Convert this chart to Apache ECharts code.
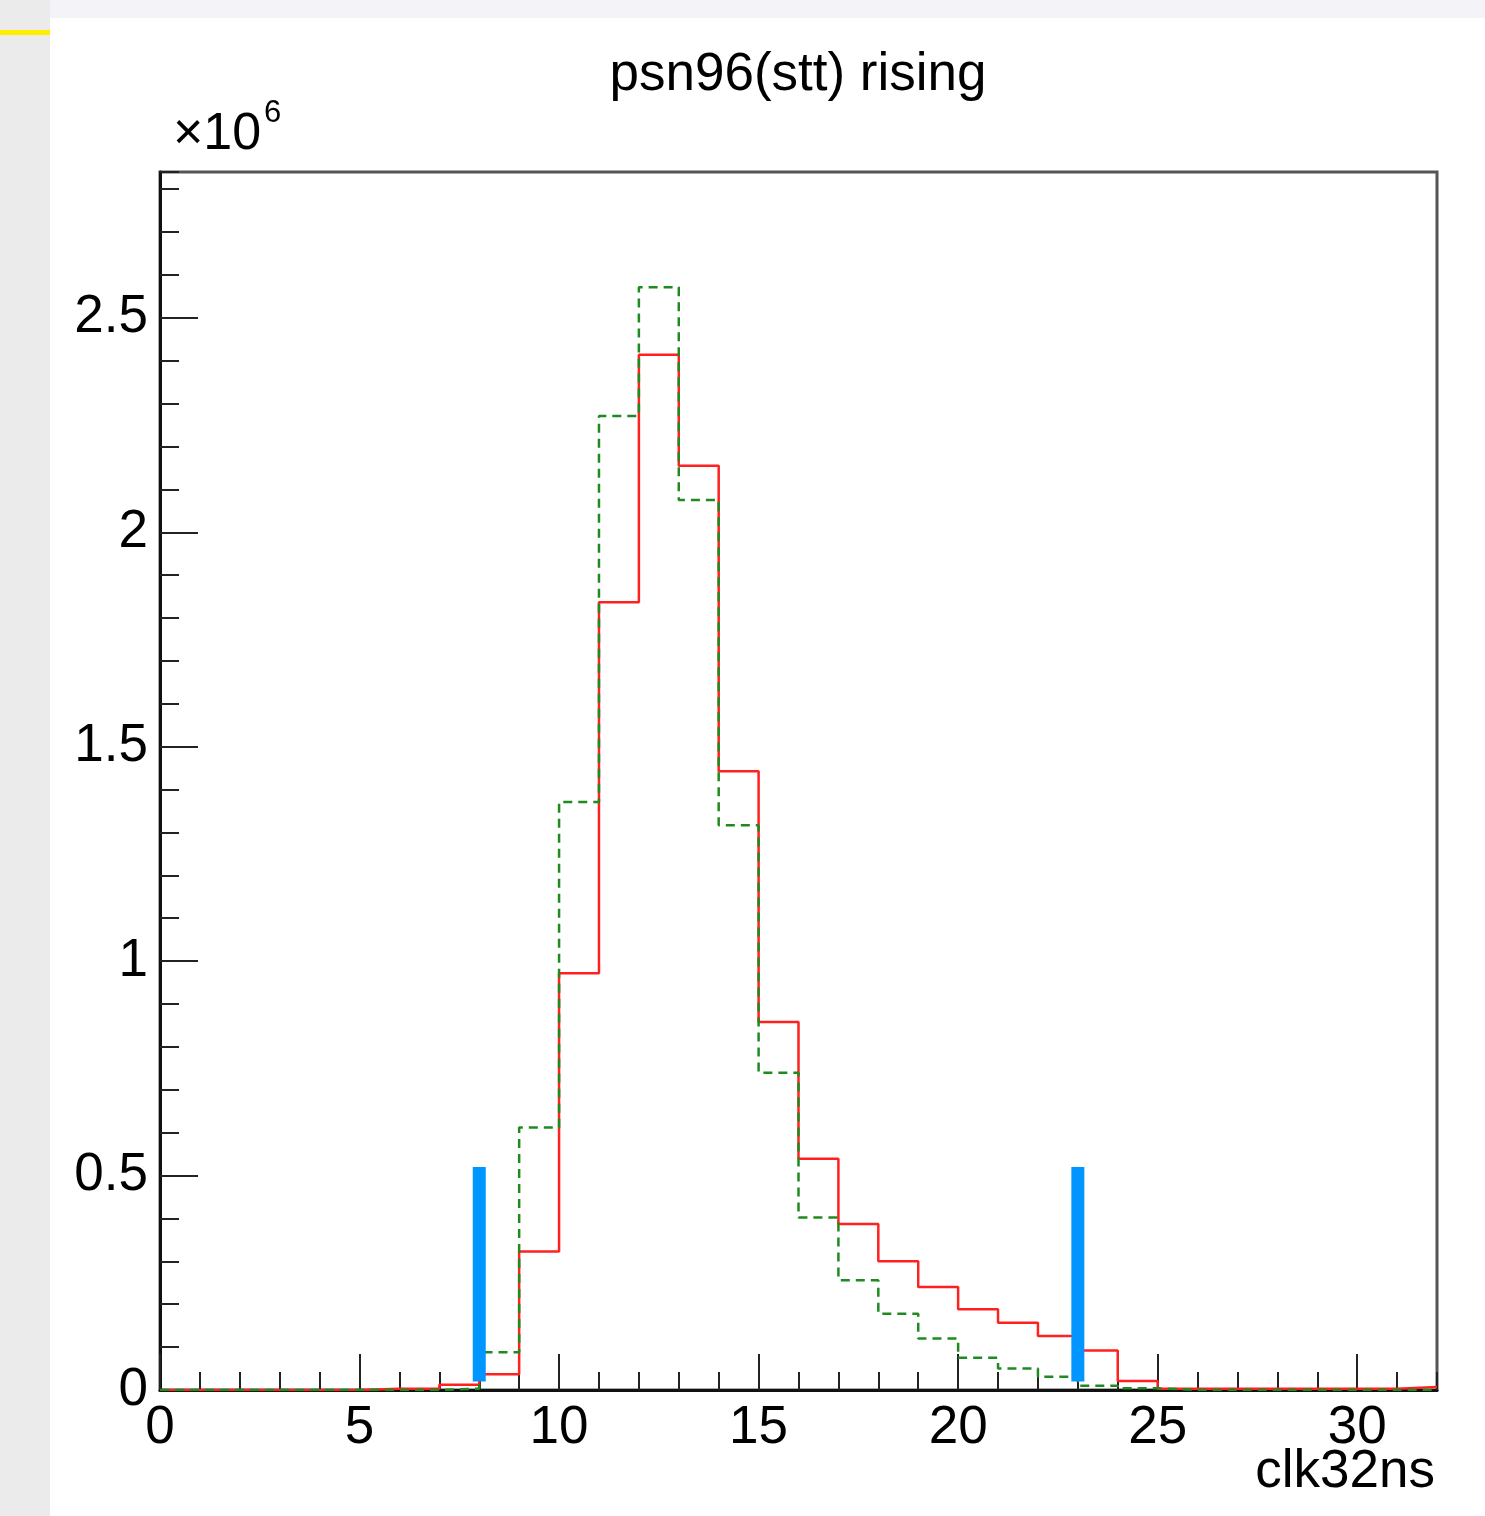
<!DOCTYPE html>
<html>
<head>
<meta charset="utf-8">
<script src="https://cdn.jsdelivr.net/npm/echarts@6/dist/echarts.min.js"></script>
<style>
html,body{margin:0;padding:0;background:#fff;}
#chart{width:1485px;height:1516px;}
</style>
</head>
<body>
<div id="chart"></div>
<script>
// ---- data (values in units of 10^6 entries) ----
const binEdgesStart = 0;          // first bin low edge (clk32ns)
const binWidth = 1;
const redCounts = [0,0,0,0,0,0.003,0.003,0.012,0.037,0.323,0.972,1.837,2.414,2.155,1.443,0.858,
                   0.539,0.387,0.300,0.240,0.188,0.157,0.126,0.092,0.021,0.003,0.003,0.003,0.003,0.003,0.003,0.007];
const greenCounts = [0,0,0,0,0,0,0,0.003,0.088,0.612,1.371,2.271,2.571,2.075,1.317,0.740,
                     0.402,0.256,0.178,0.120,0.075,0.050,0.031,0.010,0.004,0,0,0,0,0,0,0];
const cutPositions = [8, 23];
const cutRange = [0.02, 0.52];
const xMin = 0, xMax = 32, yMin = 0, yMax = 2.84;
const titleText = 'psn96(stt) rising';
const xTitle = 'clk32ns';

function stepPoints(counts){
  const pts = counts.map((v,i)=>[binEdgesStart + i*binWidth, v]);
  pts.push([binEdgesStart + counts.length*binWidth, counts[counts.length-1]]);
  return pts;
}

const FONT = 'Liberation Sans, Arial, Helvetica, sans-serif';
const chart = echarts.init(document.getElementById('chart'), null, {renderer:'canvas'});

const cutSeries = cutPositions.map(x => ({
  type:'line', xAxisIndex:0, yAxisIndex:0, symbol:'none', silent:true, z:5,
  data:[[x, cutRange[0]],[x, cutRange[1]]],
  lineStyle:{color:'#0095ff', width:13, cap:'butt'}
}));

chart.setOption({
  animation:false,
  backgroundColor:'#ffffff',
  grid:{left:160, right:48, top:172, bottom:126, show:true, borderColor:'#555555', borderWidth:3, backgroundColor:'transparent'},
  xAxis:[
    {type:'value', min:xMin, max:xMax, interval:1, position:'bottom',
     axisLine:{show:true, onZero:false, lineStyle:{color:'#111', width:3}},
     axisTick:{show:true, inside:true, length:18, lineStyle:{color:'#222', width:2}},
     axisLabel:{show:false}, splitLine:{show:false}},
    {type:'value', min:xMin, max:xMax, interval:5, position:'bottom',
     axisLine:{show:false, onZero:false},
     axisTick:{show:true, inside:true, length:36, lineStyle:{color:'#222', width:2}},
     axisLabel:{show:true, margin:12, fontSize:53, fontFamily:FONT, color:'#000', showMaxLabel:false},
     splitLine:{show:false}}
  ],
  yAxis:[
    {type:'value', min:yMin, max:yMax, interval:0.1, position:'left',
     axisLine:{show:true, onZero:false, lineStyle:{color:'#111', width:3}},
     axisTick:{show:true, inside:true, length:19, lineStyle:{color:'#222', width:2}},
     axisLabel:{show:false}, splitLine:{show:false}},
    {type:'value', min:yMin, max:yMax, interval:0.5, position:'left',
     axisLine:{show:false, onZero:false},
     axisTick:{show:true, inside:true, length:38, lineStyle:{color:'#222', width:2}},
     axisLabel:{show:true, margin:12, fontSize:53, fontFamily:FONT, color:'#000', showMaxLabel:false},
     splitLine:{show:false}}
  ],
  series:[
    {type:'line', name:'red', xAxisIndex:0, yAxisIndex:0, step:'end', symbol:'none', z:3,
     data:stepPoints(redCounts), lineStyle:{color:'#ff2020', width:2.5}},
    {type:'line', name:'green', xAxisIndex:0, yAxisIndex:0, step:'end', symbol:'none', z:4,
     data:stepPoints(greenCounts), lineStyle:{color:'#1f8a1f', width:2.5, type:[9,6]}}
  ].concat(cutSeries),
  graphic:[
    {type:'rect', z:-10, shape:{x:0,y:0,width:50,height:1516}, style:{fill:'#ebebeb'}},
    {type:'rect', z:-10, shape:{x:50,y:0,width:1435,height:18}, style:{fill:'#f4f4f8'}},
    {type:'rect', z:-9, shape:{x:0,y:30,width:50,height:5}, style:{fill:'#ffee00'}},
    {type:'text', z:10, style:{text:titleText, x:798, y:75, textAlign:'center', textVerticalAlign:'middle', font:'53px '+FONT, fill:'#000'}},
    {type:'text', z:10, style:{text:'×10', x:173, y:135, textAlign:'left', textVerticalAlign:'middle', font:'52px '+FONT, fill:'#000'}},
    {type:'text', z:10, style:{text:'6', x:264, y:113, textAlign:'left', textVerticalAlign:'middle', font:'31px '+FONT, fill:'#000'}},
    {type:'text', z:10, style:{text:xTitle, x:1435, y:1472, textAlign:'right', textVerticalAlign:'middle', font:'53px '+FONT, fill:'#000'}}
  ]
});
</script>
</body>
</html>
